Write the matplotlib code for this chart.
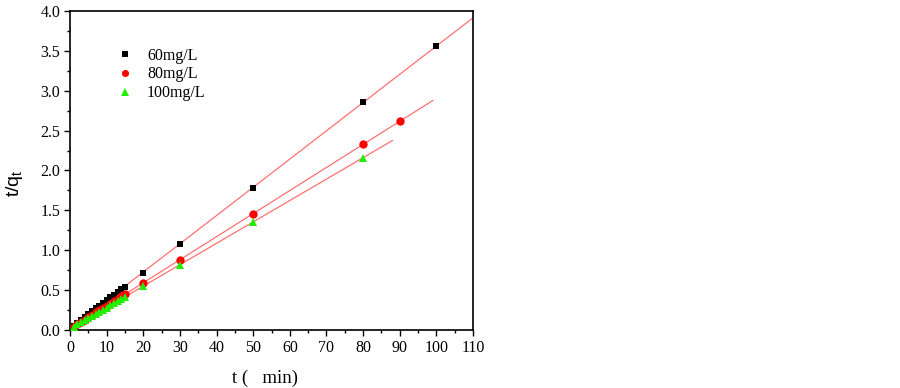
import numpy as np
import matplotlib
matplotlib.use("Agg")
import matplotlib.pyplot as plt
from matplotlib.ticker import MultipleLocator

# time points (min)
t_60 = [1, 2, 3, 4, 5, 6, 7, 8, 9, 10, 11, 12, 13, 14, 15, 20, 30, 50, 80, 100]
t_80 = [1, 2, 3, 4, 5, 6, 7, 8, 9, 10, 11, 12, 13, 14, 15, 20, 30, 50, 80, 90]
t_100 = [1, 2, 3, 4, 5, 6, 7, 8, 9, 10, 11, 12, 13, 14, 15, 20, 30, 50, 80]

# t/qt values
tq_60 = [0.055, 0.09, 0.125, 0.16, 0.2, 0.235, 0.27, 0.305, 0.34, 0.375,
         0.41, 0.445, 0.48, 0.515, 0.545, 0.72, 1.075, 1.78, 2.855, 3.565]
tq_80 = [0.04, 0.07, 0.10, 0.13, 0.16, 0.19, 0.22, 0.25, 0.27, 0.30,
         0.33, 0.36, 0.39, 0.42, 0.45, 0.593, 0.878, 1.45, 2.33, 2.62]
tq_100 = [0.04, 0.07, 0.095, 0.12, 0.15, 0.175, 0.2, 0.23, 0.255, 0.28,
          0.31, 0.335, 0.36, 0.39, 0.415, 0.55, 0.815, 1.36, 2.16]

labels = ["60mg/L", "80mg/L", "100mg/L"]
fit_end = [110, 99, 88]

serif = ["Liberation Serif", "DejaVu Serif"]

fig = plt.figure(figsize=(9, 3.88), dpi=100)
ax = fig.add_axes([0.0778, 0.1495, 0.4478, 0.8222])

series = [(t_60, tq_60, "s", "black", 5),
          (t_80, tq_80, "o", "red", 6),
          (t_100, tq_100, "^", "#22ee00", 6)]

for (t, tq, mk, col, ms), lab, tend in zip(series, labels, fit_end):
    ax.plot(t, tq, linestyle="none", marker=mk, color=col, markersize=ms,
            markeredgewidth=0, label=lab, zorder=3)
    # linear fit of the pseudo-second-order plot
    k, b = np.polyfit(t, tq, 1)
    xs = np.array([0, tend])
    ax.plot(xs, k * xs + b, color="#ff7070", linewidth=0.9, zorder=2)

ax.set_xlim(0, 110)
ax.set_ylim(0, 4.0)
ax.xaxis.set_major_locator(MultipleLocator(10))
ax.xaxis.set_minor_locator(MultipleLocator(5))
ax.yaxis.set_major_locator(MultipleLocator(0.5))
ax.yaxis.set_minor_locator(MultipleLocator(0.25))
ax.tick_params(which="both", direction="out", top=False, right=False,
               width=1, colors="black")
ax.tick_params(which="major", length=4, pad=3)
ax.tick_params(which="minor", length=2.5)
for lbl in ax.get_xticklabels() + ax.get_yticklabels():
    lbl.set_family(serif)
    lbl.set_fontsize(11.5)
ax.yaxis.set_major_formatter(matplotlib.ticker.FormatStrFormatter("%.1f"))
for sp in ax.spines.values():
    sp.set_linewidth(1.2)

ax.set_xlabel("t (   min)", family=serif, fontsize=13.5)
ax.set_ylabel("t/q$_\\mathregular{t}$", family=["Liberation Sans", "DejaVu Sans"], fontsize=14)
ax.xaxis.set_label_coords(0.484, -0.125)
ax.yaxis.set_label_coords(-0.112, 0.46)

ax.legend(loc="upper left", bbox_to_anchor=(0.08, 0.93), frameon=False,
          prop={"family": serif, "size": 11.5}, markerscale=0.85,
          handletextpad=0.9, labelspacing=0.17, handlelength=1.0)

fig.savefig("out.png", dpi=100)
